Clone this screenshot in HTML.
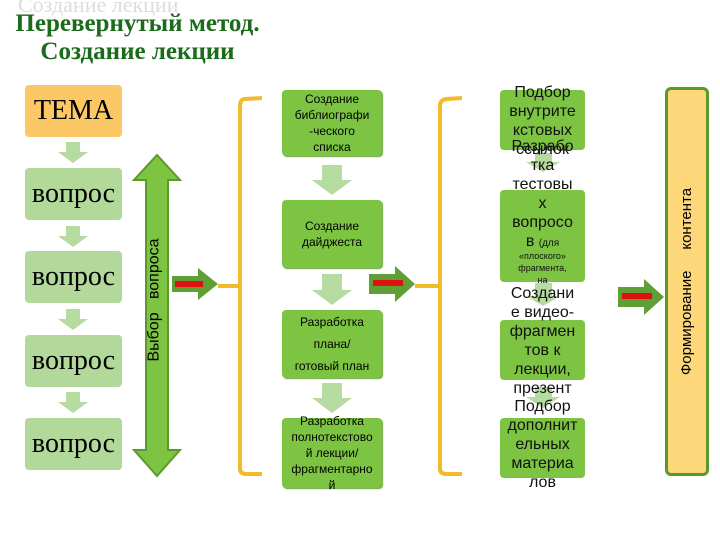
<!DOCTYPE html>
<html><head><meta charset="utf-8"><style>
body{margin:0;width:720px;height:540px;background:#fff;position:relative;overflow:hidden;font-family:"Liberation Sans","DejaVu Sans",sans-serif}
.a{position:absolute}
.t{font-family:"Liberation Serif",serif;font-weight:bold;color:#1a6b1a;font-size:25px;text-align:center}
.lb{position:absolute;left:25px;width:97px;height:52px;background:#b3d99a;border-radius:4px;font-family:"Liberation Serif",serif;font-size:28px;display:flex;align-items:center;justify-content:center}
.mb{position:absolute;left:282px;width:100px;background:#7dc443;border-radius:4px;box-shadow:1px 1px 1px #6aa63a;font-size:12px;text-align:center;display:flex;flex-direction:column;justify-content:center;line-height:16px}
.rb{position:absolute;left:500px;width:85px;background:#7dc443;border-radius:4px}
.rt{position:absolute;left:490px;width:105px;text-align:center;font-size:16px;line-height:19px;color:#111}
</style></head><body>
<div class="a t" style="left:18px;top:-8px;color:#ddd;font-size:22px;font-weight:normal">Создание лекции</div>
<div class="a t" style="left:15px;top:10px;width:245px">Перевернутый метод.</div>
<div class="a t" style="left:15px;top:38px;width:245px">Создание лекции</div>

<div class="lb" style="top:85px;background:#fbc865">ТЕМА</div>
<div class="lb" style="top:168px">вопрос</div>
<div class="lb" style="top:251px">вопрос</div>
<div class="lb" style="top:335px">вопрос</div>
<div class="lb" style="top:418px">вопрос</div>

<svg class="a" style="left:0;top:0" width="720" height="540">
<g fill="#b5dba0">
<polygon points="66,142 80,142 80,152 88,152 73,163 58,152 66,152"/>
<polygon points="66,226 80,226 80,236 88,236 73,247 58,236 66,236"/>
<polygon points="66,309 80,309 80,319 88,319 73,330 58,319 66,319"/>
<polygon points="66,392 80,392 80,402 88,402 73,413 58,402 66,402"/>
</g>
<g fill="#b5dba0">
<polygon points="322,165 342,165 342,180 352,180 332,195 312,180 322,180"/>
<polygon points="322,274 342,274 342,290 352,290 332,305 312,290 322,290"/>
<polygon points="322,383 342,383 342,398 352,398 332,413 312,398 322,398"/>
<polygon points="535,153 552,153 552,162 560,162 543,172 526,162 535,162"/>
<polygon points="535,283 552,283 552,296 560,296 543,306 526,296 535,296"/>
<polygon points="535,387 552,387 552,397 560,397 543,408 526,397 535,397"/>
</g>
<polygon points="157,155 180,180 168,180 168,450 180,450 157,476 134,450 146,450 146,180 134,180" fill="#7dc443" stroke="#5a9a2a" stroke-width="2"/>
<g>
<polygon points="172,276 198,276 198,268 218,284 198,300 198,292 172,292" fill="#5f9f35"/>
<rect x="175" y="281" width="28" height="6" fill="#e01010"/>
<polygon points="369,274 395,274 395,266 415,284 395,302 395,294 369,294" fill="#5f9f35"/>
<rect x="373" y="280" width="30" height="6" fill="#e01010"/>
<polygon points="618,287 644,287 644,279 664,297 644,315 644,307 618,307" fill="#5f9f35"/>
<rect x="622" y="293" width="30" height="6" fill="#e01010"/>
</g>
<g fill="none" stroke="#f2bb2c" stroke-width="4">
<path d="M262,98 L244,99 Q240,100 240,106 L240,468 Q240,474 246,474 L262,474"/>
<path d="M218,286 L240,286"/>
<path d="M462,98 L446,99 Q440,100 440,106 L440,468 Q440,474 446,474 L462,474"/>
<path d="M415,286 L440,286"/>
</g>
</svg>
<div class="a" style="left:130px;top:210px;width:50px;height:180px;display:flex;align-items:center;justify-content:center"><div style="transform:rotate(-90deg);white-space:nowrap;font-size:16px">Выбор&nbsp;&nbsp;&nbsp;вопроса</div></div>

<div class="mb" style="top:90px;height:66px"><div>Создание<br>библиографи<br>-ческого<br>списка</div></div>
<div class="mb" style="top:200px;height:68px">Создание<br>дайджеста</div>
<div class="mb" style="top:310px;height:68px;line-height:22px">Разработка<br>плана/<br>готовый план</div>
<div class="mb" style="top:418px;height:70px">Разработка<br>полнотекстово<br>й лекции/<br>фрагментарно<br>й</div>

<div class="rb" style="top:90px;height:60px"></div>
<div class="rb" style="top:190px;height:92px"></div>
<div class="rb" style="top:320px;height:60px"></div>
<div class="rb" style="top:418px;height:60px"></div>
<div class="rt" style="top:83px">Подбор<br>внутрите<br>кстовых<br>ссылок</div>
<div class="rt" style="top:137px">Разрабо<br>тка<br>тестовы<br>х<br>вопросо<br>в <span style="font-size:10px">(для</span></div>
<div class="rt" style="top:250px;font-size:9px;line-height:12px">«плоского»<br>фрагмента,<br>на</div>
<div class="rt" style="top:284px">Создани<br>е видео-<br>фрагмен<br>тов к<br>лекции,<br>презент</div>
<div class="rt" style="top:397px">Подбор<br>дополнит<br>ельных<br>материа<br>лов</div>

<div class="a" style="left:665px;top:87px;width:38px;height:383px;background:#fdd77a;border:3px solid #5a9a2a;border-radius:6px"></div>
<div class="a" style="left:665px;top:87px;width:44px;height:389px;display:flex;align-items:center;justify-content:center"><div style="transform:rotate(-90deg);white-space:nowrap;font-size:15px">Формирование&nbsp;&nbsp;&nbsp;&nbsp;&nbsp;контента</div></div>
</body></html>
